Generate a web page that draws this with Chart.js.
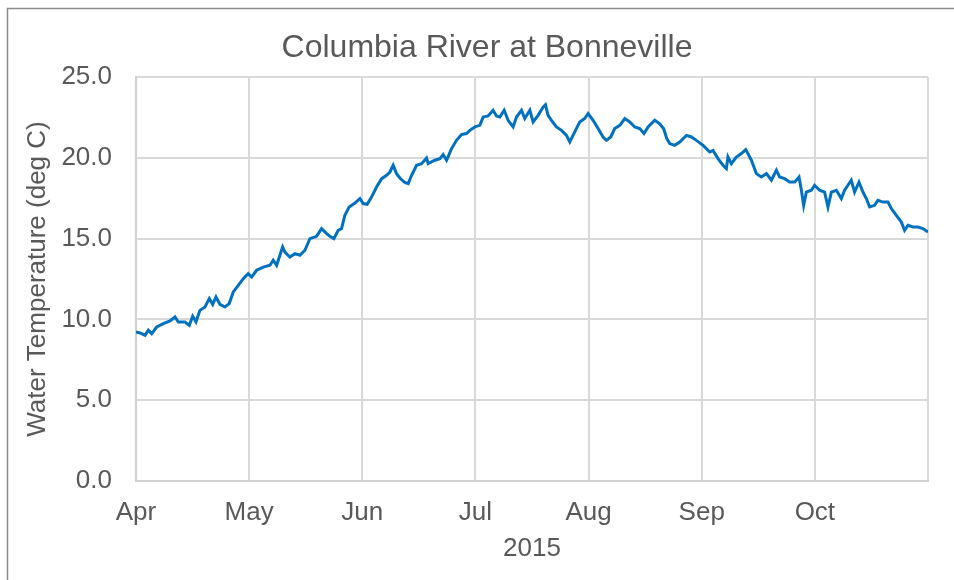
<!DOCTYPE html>
<html>
<head>
<meta charset="utf-8">
<script src="https://cdn.jsdelivr.net/npm/chart.js@4/dist/chart.umd.min.js"></script>
<style>
  html, body { margin: 0; padding: 0; background: #ffffff; }
  #wrap { width: 954px; height: 580px; position: relative; }
</style>
</head>
<body>
<div id="wrap"><canvas id="c" width="954" height="580"></canvas></div>
<script>
// ---- Data ----
const chartTitle = 'Columbia River at Bonneville';
const yAxisTitle = 'Water Temperature (deg C)';
const xAxisTitle = '2015';
const monthLabels = ['Apr', 'May', 'Jun', 'Jul', 'Aug', 'Sep', 'Oct'];
const yTickValues = [0, 5, 10, 15, 20, 25];

// position in months since 1 April 2015
const monthPos = [
  0.000, 0.035, 0.080, 0.109, 0.139, 0.183, 0.241, 0.300, 0.345, 0.374,
  0.433, 0.471, 0.501, 0.530, 0.565, 0.610, 0.648, 0.678, 0.707, 0.742,
  0.786, 0.824, 0.860, 0.904, 0.948, 0.992, 1.022, 1.066, 1.125, 1.184,
  1.213, 1.243, 1.296, 1.316, 1.360, 1.405, 1.449, 1.493, 1.537, 1.596,
  1.640, 1.685, 1.714, 1.749, 1.787, 1.817, 1.846, 1.884, 1.935, 1.979,
  2.008, 2.043, 2.082, 2.126, 2.171, 2.215, 2.244, 2.273, 2.303, 2.332,
  2.376, 2.406, 2.436, 2.480, 2.524, 2.568, 2.582, 2.641, 2.686, 2.715,
  2.745, 2.789, 2.833, 2.877, 2.921, 2.951, 2.995, 3.039, 3.068, 3.112,
  3.156, 3.186, 3.216, 3.254, 3.289, 3.333, 3.363, 3.407, 3.436, 3.481,
  3.510, 3.554, 3.598, 3.619, 3.642, 3.672, 3.716, 3.761, 3.805, 3.834,
  3.878, 3.922, 3.966, 3.996, 4.040, 4.084, 4.128, 4.158, 4.196, 4.231,
  4.276, 4.320, 4.364, 4.408, 4.452, 4.490, 4.526, 4.585, 4.629, 4.664,
  4.691, 4.717, 4.761, 4.806, 4.865, 4.909, 4.953, 5.012, 5.071, 5.100,
  5.144, 5.188, 5.218, 5.232, 5.262, 5.306, 5.351, 5.389, 5.409, 5.439,
  5.483, 5.527, 5.572, 5.616, 5.660, 5.689, 5.733, 5.777, 5.822, 5.860,
  5.881, 5.901, 5.925, 5.969, 5.998, 6.042, 6.086, 6.116, 6.146, 6.190,
  6.234, 6.263, 6.322, 6.351, 6.390, 6.425, 6.455, 6.484, 6.528, 6.557,
  6.602, 6.646, 6.676, 6.720, 6.764, 6.793, 6.823, 6.867, 6.911, 6.955,
  7.000
];
// water temperature, deg C
const tempC = [
  9.22, 9.16, 9.02, 9.33, 9.12, 9.53, 9.74, 9.90, 10.15, 9.84,
  9.84, 9.63, 10.19, 9.84, 10.56, 10.77, 11.29, 10.93, 11.39, 10.93,
  10.77, 10.98, 11.70, 12.11, 12.52, 12.83, 12.62, 13.04, 13.24, 13.35,
  13.66, 13.35, 14.48, 14.17, 13.86, 14.07, 13.97, 14.28, 15.00, 15.14,
  15.62, 15.31, 15.14, 15.00, 15.51, 15.62, 16.44, 16.96, 17.20, 17.48,
  17.17, 17.12, 17.57, 18.19, 18.71, 18.92, 19.12, 19.54, 19.02, 18.75,
  18.47, 18.40, 18.92, 19.54, 19.64, 19.99, 19.64, 19.85, 19.95, 20.20,
  19.85, 20.57, 21.08, 21.44, 21.50, 21.70, 21.91, 22.01, 22.52, 22.59,
  22.94, 22.59, 22.52, 22.94, 22.32, 21.91, 22.52, 22.94, 22.43, 22.94,
  22.22, 22.63, 23.14, 23.29, 22.63, 22.32, 21.91, 21.70, 21.39, 20.98,
  21.60, 22.22, 22.43, 22.74, 22.32, 21.81, 21.29, 21.08, 21.29, 21.81,
  22.01, 22.43, 22.22, 21.91, 21.81, 21.50, 21.91, 22.32, 22.10, 21.80,
  21.20, 20.88, 20.77, 20.98, 21.39, 21.29, 21.08, 20.77, 20.36, 20.46,
  19.95, 19.54, 19.33, 20.05, 19.64, 20.05, 20.26, 20.51, 20.26, 19.85,
  19.02, 18.81, 19.02, 18.61, 19.23, 18.81, 18.71, 18.50, 18.50, 18.81,
  17.99, 17.06, 17.88, 17.99, 18.30, 17.99, 17.88, 16.96, 17.88, 17.99,
  17.48, 17.99, 18.61, 17.88, 18.50, 17.88, 17.48, 16.96, 17.06, 17.37,
  17.26, 17.26, 16.86, 16.44, 16.03, 15.51, 15.82, 15.72, 15.72, 15.62,
  15.41
];

// ---- Chart ----
const textColor = '#595959';
const fontFamily = '"Liberation Sans", Arial, sans-serif';

const points = monthPos.map((m, i) => ({ x: m, y: tempC[i] }));

const frameAndTitle = {
  id: 'frameAndTitle',
  beforeDraw(chart) {
    const ctx = chart.ctx;
    ctx.save();
    ctx.fillStyle = '#ffffff';
    ctx.fillRect(0, 0, chart.width, chart.height);
    ctx.restore();
  },
  afterDraw(chart) {
    const ctx = chart.ctx;
    ctx.save();
    ctx.strokeStyle = '#8c8c8c';
    ctx.lineWidth = 1.5;
    ctx.beginPath();
    ctx.moveTo(7.5, chart.height);
    ctx.lineTo(7.5, 8.5);
    ctx.lineTo(chart.width, 8.5);
    ctx.stroke();
    ctx.fillStyle = textColor;
    ctx.font = '32px ' + fontFamily;
    ctx.textAlign = 'center';
    ctx.textBaseline = 'alphabetic';
    ctx.fillText(chartTitle, 487, 56.5);
    ctx.restore();
  }
};

new Chart(document.getElementById('c'), {
  type: 'line',
  data: {
    datasets: [{
      data: points,
      borderColor: '#0070c0',
      borderWidth: 3,
      borderJoinStyle: 'miter',
      pointRadius: 0,
      tension: 0,
      fill: false
    }]
  },
  options: {
    responsive: false,
    animation: false,
    devicePixelRatio: 1,
    layout: { padding: { left: 8, right: 26, top: 77, bottom: 0 } },
    plugins: {
      legend: { display: false },
      tooltip: { enabled: false },
      title: { display: false }
    },
    scales: {
      x: {
        type: 'linear',
        min: 0,
        max: 7,
        afterFit(s) { s.height = 99; },
        afterBuildTicks(s) { s.ticks = [0,1,2,3,4,5,6,7].map(v => ({ value: v })); },
        ticks: {
          autoSkip: false,
          maxRotation: 0,
          padding: 16,
          color: textColor,
          font: { family: fontFamily, size: 26 },
          callback: (v) => monthLabels[v] !== undefined ? monthLabels[v] : ''
        },
        grid: { color: '#d9d9d9', lineWidth: 2, drawTicks: false },
        border: { color: '#d0d0d0', width: 2 },
        title: {
          display: true,
          text: xAxisTitle,
          color: textColor,
          font: { family: fontFamily, size: 26 },
          padding: { top: 0, bottom: 16 }
        }
      },
      y: {
        min: 0,
        max: 25,
        afterFit(s) { s.width = 128; },
        afterBuildTicks(s) { s.ticks = yTickValues.map(v => ({ value: v })); },
        ticks: {
          padding: 24,
          color: textColor,
          font: { family: fontFamily, size: 26 },
          callback: (v) => Number(v).toFixed(1)
        },
        grid: { color: '#d9d9d9', lineWidth: 2, drawTicks: false },
        border: { color: '#d0d0d0', width: 2 },
        title: {
          display: true,
          text: yAxisTitle,
          color: textColor,
          font: { family: fontFamily, size: 26 },
          padding: { top: 14, bottom: 0 }
        }
      }
    }
  },
  plugins: [frameAndTitle]
});
</script>
</body>
</html>
